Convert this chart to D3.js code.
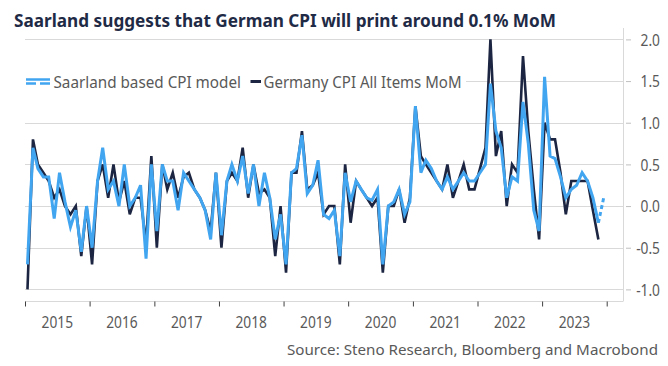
<!DOCTYPE html>
<html>
<head>
<meta charset="utf-8">
<script src="https://cdn.jsdelivr.net/npm/d3@7"></script>
<style>
  html, body { margin: 0; padding: 0; background: #fff; }
  svg { display: block; }
</style>
</head>
<body>
<svg id="chart" width="668" height="366"></svg>
<script>
// ---------------- DATA ----------------
const startYear = 2015;
const yearLabels = ["2015","2016","2017","2018","2019","2020","2021","2022","2023"];
const yTicks = [-1.0, -0.5, 0.0, 0.5, 1.0, 1.5, 2.0];

// Germany CPI All Items MoM, monthly from Jan 2015 to Nov 2023
const germanyCPI = [
  -1.0, 0.8, 0.5, 0.4, 0.3, 0.1, 0.2, 0.0, -0.1, 0.0, -0.6, 0.0,
  -0.7, 0.3, 0.5, 0.1, 0.5, 0.05, 0.3, -0.1, 0.1, 0.1, -0.45, 0.6,
  -0.5, 0.5, 0.2, 0.4, 0.1, 0.35, 0.4, 0.2, 0.1, -0.05, -0.3, 0.4,
  -0.5, 0.3, 0.4, 0.3, 0.7, 0.1, 0.5, 0.15, 0.2, 0.1, -0.6, 0.0,
  -0.8, 0.4, 0.4, 0.9, 0.2, 0.25, 0.4, -0.1, 0.0, 0.0, -0.7, 0.5,
  -0.2, 0.3, 0.2, 0.1, 0.0, 0.1, -0.8, 0.0, 0.0, 0.2, -0.2, 0.1,
  1.2, 0.6, 0.5, 0.4, 0.3, 0.2, 0.5, 0.1, 0.3, 0.5, 0.2, 0.2,
  0.45, 0.7, 2.0, 0.6, 0.9, 0.0, 0.5, 0.4, 1.8, 0.9, 0.2, -0.4,
  1.0, 0.8, 0.8, 0.4, -0.1, 0.3, 0.3, 0.3, 0.3, -0.05, -0.4
];
// Saarland based CPI model, monthly from Jan 2015 to Dec 2023 (Dec 2023 = estimate)
const saarlandModel = [
  -0.7, 0.7, 0.45, 0.35, 0.35, -0.15, 0.4, 0.05, -0.25, -0.05, -0.55, 0.0,
  -0.5, 0.3, 0.7, 0.2, 0.3, 0.0, 0.5, 0.0, 0.1, 0.25, -0.63, 0.5,
  -0.3, 0.5, 0.3, 0.3, -0.05, 0.4, 0.3, 0.2, 0.1, -0.05, -0.4, 0.4,
  -0.35, 0.3, 0.5, 0.3, 0.6, 0.15, 0.5, 0.0, 0.4, 0.1, -0.4, -0.1,
  -0.7, 0.4, 0.45, 0.85, 0.15, 0.25, 0.55, -0.1, -0.15, -0.05, -0.6, 0.4,
  0.05, 0.3, 0.2, 0.1, 0.07, 0.2, -0.7, 0.0, 0.05, 0.2, -0.1, 0.05,
  1.2, 0.4, 0.55, 0.45, 0.3, 0.2, 0.35, 0.2, 0.3, 0.4, 0.3, 0.3,
  0.4, 0.5, 1.47, 0.9, 0.7, 0.1, 0.35, 0.3, 1.25, 0.75, -0.05, -0.3,
  1.55, 0.6, 0.57, 0.35, 0.1, 0.2, 0.25, 0.4, 0.3, 0.1, -0.2, 0.1
];
const forecastCount = 1; // last point of the model is the estimate (dashed)

// ---------------- LAYOUT ----------------
const svg = d3.select("#chart");
const plotLeft = 25, plotRight = 623, plotTop = 39.4, plotBottom = 289.4, axisY = 301;
const labelFont = "'Noto Sans', 'Open Sans', sans-serif";
const gray = "#595959";

const monthDate = i => new Date(startYear, i, 15);
const x = d3.scaleTime()
  .domain([new Date(startYear, 0, 1), new Date(startYear + yearLabels.length, 0, 1)])
  .range([25, 606.7]);
const y = d3.scaleLinear().domain([-1, 2]).range([plotBottom, plotTop]);

// gridlines
svg.append("g").selectAll("line").data(yTicks).join("line")
  .attr("x1", plotLeft).attr("x2", plotRight)
  .attr("y1", d => Math.round(y(d)) + 0.5).attr("y2", d => Math.round(y(d)) + 0.5)
  .attr("stroke", "#d9d9d9").attr("stroke-width", 1);

// right axis line and bottom axis line
svg.append("line").attr("x1", plotRight + 0.5).attr("x2", plotRight + 0.5).attr("y1", 28).attr("y2", axisY)
  .attr("stroke", "#d9d9d9");
svg.append("line").attr("x1", plotLeft).attr("x2", plotRight + 0.5).attr("y1", axisY + 0.5).attr("y2", axisY + 0.5)
  .attr("stroke", "#d9d9d9");

// compress labels horizontally (narrow original font)
function squeeze(sel, k) {
  sel.each(function () {
    const w = this.getComputedTextLength();
    d3.select(this).attr("textLength", w * k).attr("lengthAdjust", "spacingAndGlyphs");
  });
}

// y axis (right)
const yAxis = d3.axisRight(y).tickValues(yTicks).tickSize(5).tickFormat(d3.format(".1f"));
const gy = svg.append("g").attr("transform", `translate(626,0)`).call(yAxis);
gy.select(".domain").remove();
gy.selectAll(".tick line").attr("stroke", "#bfbfbf");
gy.selectAll(".tick text")
  .attr("x", 34).attr("dy", "0.36em")
  .attr("text-anchor", "end")
  .attr("fill", gray)
  .style("font-family", labelFont).style("font-size", "16px")
  .text(d => d3.format(".1f")(d).replace("\u2212", "-"));
squeeze(gy.selectAll(".tick text"), 0.86);

// x axis (year boundaries)
const yearStarts = d3.range(yearLabels.length + 1).map(k => new Date(startYear + k, 0, 1));
const xAxis = d3.axisBottom(x).tickValues(yearStarts).tickSize(5).tickFormat("");
const gx = svg.append("g").attr("transform", `translate(0,${axisY + 0.5})`).call(xAxis);
gx.select(".domain").remove();
gx.selectAll(".tick line").attr("stroke", "#404040");

const yl = svg.append("g").selectAll("text").data(yearLabels).join("text")
  .attr("x", (d, k) => (x(yearStarts[k]) + x(yearStarts[k + 1])) / 2)
  .attr("y", 327.5)
  .attr("text-anchor", "middle")
  .attr("fill", gray)
  .style("font-family", labelFont).style("font-size", "16px")
  .text(d => d);
squeeze(yl, 0.86);

// ---------------- LINES ----------------
const line = d3.line().x(d => x(d.date)).y(d => y(d.v));
const germanyPts = germanyCPI.map((v, i) => ({ date: monthDate(i), v }));
const saarPts = saarlandModel.map((v, i) => ({ date: monthDate(i), v }));
const nSolid = saarPts.length - forecastCount;

svg.append("path").datum(germanyPts)
  .attr("d", line).attr("fill", "none")
  .attr("stroke", "#1c2541").attr("stroke-width", 2.6).attr("stroke-linejoin", "miter");
svg.append("path").datum(saarPts.slice(0, nSolid))
  .attr("d", line).attr("fill", "none")
  .attr("stroke", "#42a5f0").attr("stroke-width", 3).attr("stroke-linejoin", "miter");
svg.append("path").datum(saarPts.slice(nSolid - 1))
  .attr("d", line).attr("fill", "none")
  .attr("stroke", "#42a5f0").attr("stroke-width", 3).attr("stroke-dasharray", "4,3");

// ---------------- LEGEND ----------------
svg.append("rect").attr("x", 20).attr("y", 71).attr("width", 446).attr("height", 21).attr("fill", "#fff");
const lg = svg.append("g");
lg.append("line").attr("x1", 26).attr("x2", 50).attr("y1", 79.5).attr("y2", 79.5)
  .attr("stroke", "#42a5f0").attr("stroke-width", 2.5);
lg.append("line").attr("x1", 26).attr("x2", 50).attr("y1", 83.5).attr("y2", 83.5)
  .attr("stroke", "#42a5f0").attr("stroke-width", 2.5).attr("stroke-dasharray", "10,4,10");
lg.append("text").attr("x", 53.5).attr("y", 88).attr("fill", gray)
  .style("font-family", labelFont).style("font-size", "16px")
  .attr("textLength", 187.5).attr("lengthAdjust", "spacingAndGlyphs")
  .text("Saarland based CPI model");
lg.append("line").attr("x1", 250.5).attr("x2", 261).attr("y1", 81.5).attr("y2", 81.5)
  .attr("stroke", "#1c2541").attr("stroke-width", 3);
lg.append("text").attr("x", 263.5).attr("y", 88).attr("fill", gray)
  .style("font-family", labelFont).style("font-size", "16px")
  .attr("textLength", 198).attr("lengthAdjust", "spacingAndGlyphs")
  .text("Germany CPI All Items MoM");

// ---------------- TITLE & SOURCE ----------------
svg.append("text").attr("x", 14).attr("y", 27).attr("fill", "#1f2b46")
  .style("font-family", labelFont).style("font-size", "18.5px").style("font-weight", "700")
  .attr("textLength", 542).attr("lengthAdjust", "spacingAndGlyphs")
  .text("Saarland suggests that German CPI will print around 0.1% MoM");

svg.append("text").attr("x", 287).attr("y", 355).attr("fill", gray)
  .style("font-family", labelFont).style("font-size", "15px")
  .attr("textLength", 371).attr("lengthAdjust", "spacingAndGlyphs")
  .text("Source: Steno Research, Bloomberg and Macrobond");
</script>
</body>
</html>
